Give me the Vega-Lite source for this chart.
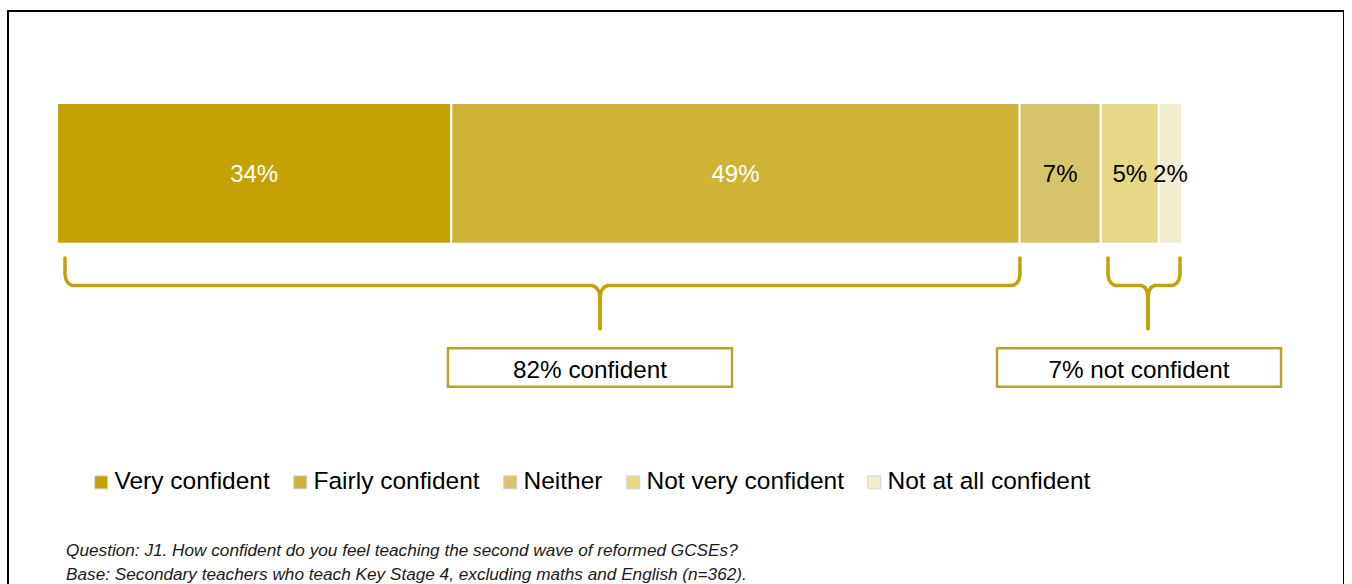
{
  "$schema": "https://vega.github.io/schema/vega-lite/v6.json",
  "width": 1336,
  "height": 600,
  "padding": {"left": 8, "top": 11, "right": 0, "bottom": 0},
  "autosize": {"type": "none"},
  "background": "white",
  "config": {
    "view": {"stroke": "black", "strokeWidth": 2},
    "font": "Liberation Sans",
    "text": {"font": "Liberation Sans"}
  },
  "datasets": {
    "segments": [
      {"cat": "Very confident", "rank": 1, "value": 34, "label": "34%"},
      {"cat": "Fairly confident", "rank": 2, "value": 49, "label": "49%"},
      {"cat": "Neither", "rank": 3, "value": 7, "label": "7%"},
      {"cat": "Not very confident", "rank": 4, "value": 5, "label": "5%"},
      {"cat": "Not at all confident", "rank": 5, "value": 2, "label": "2%"}
    ],
    "braces": [
      {"path": "a", "seq": 1, "x": 0.69, "y": 24.6},
      {"path": "a", "seq": 2, "x": 0.69, "y": 26.3},
      {"path": "a", "seq": 3, "x": 0.78, "y": 26.8},
      {"path": "a", "seq": 4, "x": 0.95, "y": 27.15},
      {"path": "a", "seq": 5, "x": 1.29, "y": 27.4},
      {"path": "a", "seq": 6, "x": 46.13, "y": 27.4},
      {"path": "a", "seq": 7, "x": 46.47, "y": 27.6},
      {"path": "a", "seq": 8, "x": 46.73, "y": 28.0},
      {"path": "a", "seq": 9, "x": 46.82, "y": 28.7},
      {"path": "a", "seq": 10, "x": 46.82, "y": 31.8},
      {"path": "b", "seq": 1, "x": 83.03, "y": 24.6},
      {"path": "b", "seq": 2, "x": 83.03, "y": 26.3},
      {"path": "b", "seq": 3, "x": 82.95, "y": 26.8},
      {"path": "b", "seq": 4, "x": 82.77, "y": 27.15},
      {"path": "b", "seq": 5, "x": 82.43, "y": 27.4},
      {"path": "b", "seq": 6, "x": 47.51, "y": 27.4},
      {"path": "b", "seq": 7, "x": 47.16, "y": 27.6},
      {"path": "b", "seq": 8, "x": 46.91, "y": 28.0},
      {"path": "b", "seq": 9, "x": 46.82, "y": 28.7},
      {"path": "b", "seq": 10, "x": 46.82, "y": 31.8},
      {"path": "c", "seq": 1, "x": 90.62, "y": 24.6},
      {"path": "c", "seq": 2, "x": 90.62, "y": 26.3},
      {"path": "c", "seq": 3, "x": 90.71, "y": 26.8},
      {"path": "c", "seq": 4, "x": 90.88, "y": 27.15},
      {"path": "c", "seq": 5, "x": 91.22, "y": 27.4},
      {"path": "c", "seq": 6, "x": 93.47, "y": 27.4},
      {"path": "c", "seq": 7, "x": 93.81, "y": 27.6},
      {"path": "c", "seq": 8, "x": 93.98, "y": 28.0},
      {"path": "c", "seq": 9, "x": 94.07, "y": 28.7},
      {"path": "c", "seq": 10, "x": 94.07, "y": 31.8},
      {"path": "d", "seq": 1, "x": 96.83, "y": 24.6},
      {"path": "d", "seq": 2, "x": 96.83, "y": 26.3},
      {"path": "d", "seq": 3, "x": 96.74, "y": 26.8},
      {"path": "d", "seq": 4, "x": 96.57, "y": 27.15},
      {"path": "d", "seq": 5, "x": 96.22, "y": 27.4},
      {"path": "d", "seq": 6, "x": 94.67, "y": 27.4},
      {"path": "d", "seq": 7, "x": 94.33, "y": 27.6},
      {"path": "d", "seq": 8, "x": 94.15, "y": 28.0},
      {"path": "d", "seq": 9, "x": 94.07, "y": 28.7},
      {"path": "d", "seq": 10, "x": 94.07, "y": 31.8}
    ],
    "boxes": [
      {"label": "82% confident", "x1": 33.71, "x2": 58.2, "cx": 45.96},
      {"label": "7% not confident", "x1": 81.05, "x2": 105.54, "cx": 93.29}
    ]
  },
  "layer": [
    {
      "data": {"name": "segments"},
      "mark": {"type": "bar", "orient": "horizontal", "stroke": "white", "strokeWidth": 2},
      "encoding": {
        "x": {"field": "value", "type": "quantitative", "stack": "zero", "axis": null,
              "scale": {"domain": [-4.225, 110.97], "nice": false, "zero": false}},
        "y": {"datum": 8.85, "type": "quantitative", "axis": null,
              "scale": {"domain": [0, 60], "reverse": true, "nice": false, "zero": false}},
        "y2": {"datum": 23.15},
        "order": {"field": "rank"},
        "color": {
          "field": "cat", "type": "nominal",
          "scale": {
            "domain": ["Very confident", "Fairly confident", "Neither", "Not very confident", "Not at all confident"],
            "range": ["#C4A204", "#CFB337", "#D8C46A", "#E6D886", "#F3EDD0"]
          },
          "legend": {
            "orient": "none", "legendX": 81, "legendY": 459, "direction": "horizontal", "columns": 5,
            "title": null, "symbolType": "square", "symbolSize": 169, "symbolStrokeColor": "#d4d4d4",
            "symbolStrokeWidth": 1, "labelFont": "Liberation Sans", "labelFontSize": 24.5, "labelColor": "black",
            "labelOffset": 1, "columnPadding": 18, "padding": 0, "labelLimit": 400
          }
        }
      }
    },
    {
      "data": {"name": "segments"},
      "mark": {"type": "text", "fontSize": 24, "baseline": "middle", "align": "center"},
      "encoding": {
        "x": {"field": "value", "type": "quantitative", "stack": "zero", "bandPosition": 0.5, "axis": null,
              "scale": {"domain": [-4.225, 110.97], "nice": false, "zero": false}},
        "y": {"datum": 16.2, "type": "quantitative", "axis": null,
              "scale": {"domain": [0, 60], "reverse": true, "nice": false, "zero": false}},
        "detail": {"field": "cat"},
        "order": {"field": "rank"},
        "text": {"field": "label"},
        "color": {"condition": {"test": "datum.rank <= 2", "value": "white"}, "value": "black"}
      }
    },
    {
      "data": {"name": "braces"},
      "mark": {"type": "line", "color": "#C4A204", "strokeWidth": 3.5, "strokeCap": "round", "strokeJoin": "round"},
      "encoding": {
        "x": {"field": "x", "type": "quantitative", "axis": null,
              "scale": {"domain": [-4.225, 110.97], "nice": false, "zero": false}},
        "y": {"field": "y", "type": "quantitative", "axis": null,
              "scale": {"domain": [0, 60], "reverse": true, "nice": false, "zero": false}},
        "detail": {"field": "path"},
        "order": {"field": "seq"}
      }
    },
    {
      "data": {"name": "boxes"},
      "mark": {"type": "rect", "fill": "white", "stroke": "#BCA22C", "strokeWidth": 2.5},
      "encoding": {
        "x": {"field": "x1", "type": "quantitative", "axis": null,
              "scale": {"domain": [-4.225, 110.97], "nice": false, "zero": false}},
        "x2": {"field": "x2"},
        "y": {"datum": 33.8, "type": "quantitative", "axis": null,
              "scale": {"domain": [0, 60], "reverse": true, "nice": false, "zero": false}},
        "y2": {"datum": 37.7}
      }
    },
    {
      "data": {"name": "boxes"},
      "mark": {"type": "text", "fontSize": 24.3, "baseline": "middle", "align": "center", "color": "black"},
      "encoding": {
        "x": {"field": "cx", "type": "quantitative", "axis": null,
              "scale": {"domain": [-4.225, 110.97], "nice": false, "zero": false}},
        "y": {"datum": 36.1, "type": "quantitative", "axis": null,
              "scale": {"domain": [0, 60], "reverse": true, "nice": false, "zero": false}},
        "text": {"field": "label"}
      }
    },
    {
      "data": {"values": [{}]},
      "mark": {"type": "text", "fontSize": 17.2, "fontStyle": "italic", "align": "left", "baseline": "alphabetic",
               "color": "#1a1a1a", "lineHeight": 24},
      "encoding": {
        "x": {"datum": 0.78, "type": "quantitative", "axis": null,
              "scale": {"domain": [-4.225, 110.97], "nice": false, "zero": false}},
        "y": {"datum": 54.95, "type": "quantitative", "axis": null,
              "scale": {"domain": [0, 60], "reverse": true, "nice": false, "zero": false}},
        "text": {"value": ["Question: J1. How confident do you feel teaching the second wave of reformed GCSEs?",
                           "Base: Secondary teachers who teach Key Stage 4, excluding maths and English (n=362)."]}
      }
    }
  ]
}
